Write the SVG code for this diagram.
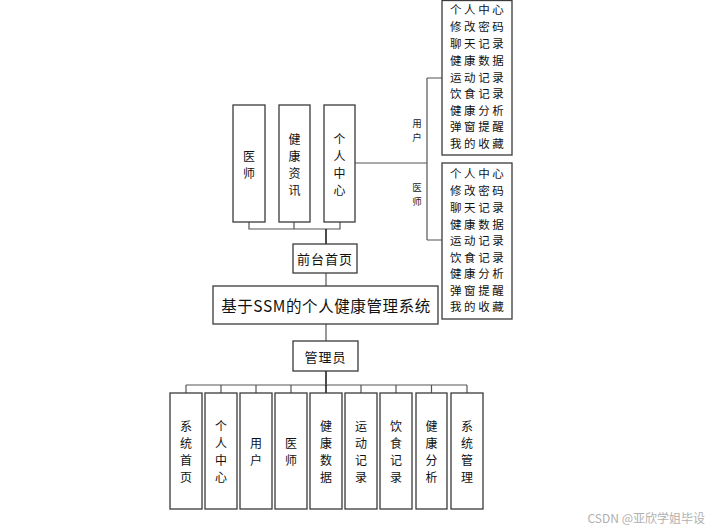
<svg xmlns="http://www.w3.org/2000/svg" width="713" height="529" viewBox="0 0 713 529">
<defs>
<style>
.box{fill:#fff;stroke:#3a3a3a;stroke-width:1.3}
.t{font-family:"Noto Sans CJK SC","Noto Sans CJK JP",sans-serif;font-size:12px;fill:#111;text-anchor:middle;dominant-baseline:central}
.h{font-family:"Noto Sans CJK SC","Noto Sans CJK JP",sans-serif;font-size:13px;fill:#111;text-anchor:middle;dominant-baseline:central}
.m{font-family:"Noto Sans CJK SC",sans-serif;font-size:11.5px;fill:#111;letter-spacing:2.6px;dominant-baseline:central}
.s{font-family:"Noto Sans CJK SC",sans-serif;font-size:9.5px;fill:#222;text-anchor:middle;dominant-baseline:central}
.c{fill:none;stroke:#555;stroke-width:1.2}
.k{fill:none;stroke:#111;stroke-width:1.5}
</style>
</defs>
<rect width="713" height="529" fill="#fff"/>
<g id="connectors">
<path class="c" d="M249 222V229H340V222M294 222V229"/>
<path class="k" d="M326 229V244"/>
<path class="c" d="M355 163H427M427 78V240M427 78H442M427 240H442"/>
<path class="c" d="M326 273V286M326 324V341"/>
<path class="k" d="M326 371V385"/>
<path class="c" d="M186 385H467M186 385V393M221 385V393M256 385V393M291 385V393M361 385V393M396 385V393M431.5 385V393M467 385V393"/>
<path class="k" d="M326 385V393"/>
</g>
<g id="n-yishi-top"><rect class="box" x="233" y="105" width="32" height="117"/><text class="t" x="249" y="155">医</text><text class="t" x="249" y="172">师</text></g>
<g id="n-zixun"><rect class="box" x="279" y="105" width="31" height="117"/><text class="t" x="294.5" y="138">健</text><text class="t" x="294.5" y="155">康</text><text class="t" x="294.5" y="172">资</text><text class="t" x="294.5" y="189">讯</text></g>
<g id="n-center-top"><rect class="box" x="324" y="105" width="31" height="117"/><text class="t" x="339.5" y="138">个</text><text class="t" x="339.5" y="155">人</text><text class="t" x="339.5" y="172">中</text><text class="t" x="339.5" y="189">心</text></g>
<g id="n-qiantai"><rect class="box" x="293" y="244" width="64" height="29"/><text class="h" x="325" y="258.5" style="letter-spacing:1px">前台首页</text></g>
<g id="lbl-user"><text class="s" x="417" y="123">用</text><text class="s" x="417" y="137">户</text></g>
<g id="lbl-doc"><text class="s" x="417" y="187">医</text><text class="s" x="417" y="201">师</text></g>
<g id="n-user-menu"><rect class="box" x="442" y="0.5" width="70" height="154.5"/>
<text class="m" x="450" y="9">个人中心</text><text class="m" x="450" y="26">修改密码</text><text class="m" x="450" y="43">聊天记录</text><text class="m" x="450" y="60">健康数据</text><text class="m" x="450" y="76.5">运动记录</text><text class="m" x="450" y="93">饮食记录</text><text class="m" x="450" y="109.5">健康分析</text><text class="m" x="450" y="126">弹窗提醒</text><text class="m" x="450" y="143">我的收藏</text></g>
<g id="n-doc-menu"><rect class="box" x="442" y="163" width="70" height="156"/>
<text class="m" x="450" y="173">个人中心</text><text class="m" x="450" y="190">修改密码</text><text class="m" x="450" y="207">聊天记录</text><text class="m" x="450" y="224">健康数据</text><text class="m" x="450" y="240">运动记录</text><text class="m" x="450" y="257">饮食记录</text><text class="m" x="450" y="273">健康分析</text><text class="m" x="450" y="290">弹窗提醒</text><text class="m" x="450" y="306">我的收藏</text></g>
<g id="n-title"><rect class="box" x="213" y="286" width="225" height="38"/><text class="h" x="326" y="305" style="font-size:15.5px;letter-spacing:0.6px">基于SSM的个人健康管理系统</text></g>
<g id="n-admin"><rect class="box" x="293" y="341" width="65" height="30"/><text class="h" x="325.5" y="356" style="letter-spacing:1px">管理员</text></g>
<g id="b1"><rect class="box" x="170" y="393" width="32" height="116"/><text class="t" x="186" y="425">系</text><text class="t" x="186" y="442">统</text><text class="t" x="186" y="459">首</text><text class="t" x="186" y="476">页</text></g>
<g id="b2"><rect class="box" x="205" y="393" width="32" height="116"/><text class="t" x="221" y="425">个</text><text class="t" x="221" y="442">人</text><text class="t" x="221" y="459">中</text><text class="t" x="221" y="476">心</text></g>
<g id="b3"><rect class="box" x="240" y="393" width="32" height="116"/><text class="t" x="256" y="442">用</text><text class="t" x="256" y="459">户</text></g>
<g id="b4"><rect class="box" x="275" y="393" width="32" height="116"/><text class="t" x="291" y="442">医</text><text class="t" x="291" y="459">师</text></g>
<g id="b5"><rect class="box" x="310" y="393" width="32" height="116"/><text class="t" x="326" y="425">健</text><text class="t" x="326" y="442">康</text><text class="t" x="326" y="459">数</text><text class="t" x="326" y="476">据</text></g>
<g id="b6"><rect class="box" x="345" y="393" width="32" height="116"/><text class="t" x="361" y="425">运</text><text class="t" x="361" y="442">动</text><text class="t" x="361" y="459">记</text><text class="t" x="361" y="476">录</text></g>
<g id="b7"><rect class="box" x="380" y="393" width="32" height="116"/><text class="t" x="396" y="425">饮</text><text class="t" x="396" y="442">食</text><text class="t" x="396" y="459">记</text><text class="t" x="396" y="476">录</text></g>
<g id="b8"><rect class="box" x="416" y="393" width="31" height="116"/><text class="t" x="431.5" y="425">健</text><text class="t" x="431.5" y="442">康</text><text class="t" x="431.5" y="459">分</text><text class="t" x="431.5" y="476">析</text></g>
<g id="b9"><rect class="box" x="451" y="393" width="32" height="116"/><text class="t" x="467" y="425">系</text><text class="t" x="467" y="442">统</text><text class="t" x="467" y="459">管</text><text class="t" x="467" y="476">理</text></g>
<text x="705" y="517" style="font-family:'Noto Sans CJK SC',sans-serif;font-size:12px;fill:#b0b0b0;text-anchor:end;dominant-baseline:central">CSDN @亚欣学姐毕设</text>
</svg>
